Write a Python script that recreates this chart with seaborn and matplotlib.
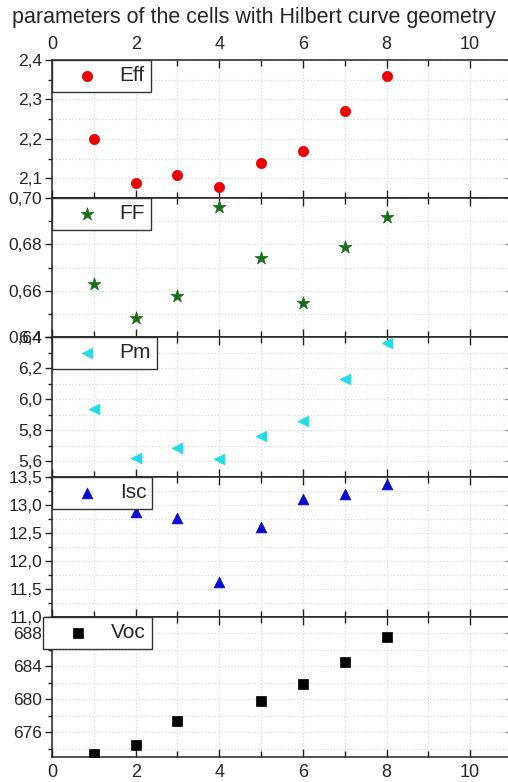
import numpy as np
import pandas as pd
import seaborn as sns
import matplotlib.pyplot as plt
from matplotlib.ticker import FixedLocator, FuncFormatter

# values
sample = [1, 2, 3, 4, 5, 6, 7, 8]
eff = [2.200, 2.088, 2.108, 2.079, 2.139, 2.169, 2.271, 2.360]
ff = [0.663, 0.648, 0.6575, 0.696, 0.674, 0.6545, 0.679, 0.692]
pm = [5.938, 5.624, 5.688, 5.613, 5.764, 5.858, 6.130, 6.360]
isc = [np.nan, 12.88, 12.76, 11.62, 12.61, 13.10, 13.20, 13.38]
voc = [673.4, 674.4, 677.4, np.nan, 679.8, 681.9, 684.5, 687.6]

df = pd.DataFrame({'n': sample, 'Eff': eff, 'FF': ff, 'Pm': pm,
                   'Isc': isc, 'Voc': voc})

sns.set_style('white')
plt.rcParams['font.family'] = ['Liberation Sans', 'DejaVu Sans']

# name, color, marker, size, ylim, major ticks, minor ticks, decimals
panels = [
    ('Eff', '#ee0000', 'o', 55, (2.05, 2.4), [2.1, 2.2, 2.3, 2.4], [2.15, 2.25, 2.35], 1),
    ('FF', '#1a6e1a', '*', 95, (0.64, 0.70), [0.64, 0.66, 0.68, 0.70], [0.65, 0.67, 0.69], 2),
    ('Pm', '#22dde8', '<', 60, (5.5, 6.4), [5.6, 5.8, 6.0, 6.2, 6.4], [5.5, 5.7, 5.9, 6.1, 6.3], 1),
    ('Isc', '#0a0ad0', '^', 60, (11.0, 13.5), [11.0, 11.5, 12.0, 12.5, 13.0, 13.5],
     [11.25, 11.75, 12.25, 12.75, 13.25], 1),
    ('Voc', '#000000', 's', 45, (673, 690), [676, 680, 684, 688], [674, 678, 682, 686, 690], 0),
]

fig = plt.figure(figsize=(5.08, 7.82), dpi=100)
W, H = 508, 782
left, width = 52 / W, 460 / W
edges = [60, 198, 337, 477, 617, 757]

for i, (name, col, mk, sz, ylim, major, minor, dec) in enumerate(panels):
    top, bot = edges[i], edges[i + 1]
    ax = fig.add_axes([left, 1 - bot / H, width, (bot - top) / H])
    ax.set_axisbelow(True)
    sns.scatterplot(data=df, x='n', y=name, ax=ax, color=col, marker=mk,
                    s=sz, edgecolor=col, linewidth=0.5, label=name, zorder=3)
    ax.set_xlim(0, 11)
    ax.set_ylim(*ylim)
    ax.set_xlabel('')
    ax.set_ylabel('')

    ax.xaxis.set_major_locator(FixedLocator([0, 2, 4, 6, 8, 10]))
    ax.xaxis.set_minor_locator(FixedLocator([1, 3, 5, 7, 9, 11]))
    ax.yaxis.set_major_locator(FixedLocator(major))
    ax.yaxis.set_minor_locator(FixedLocator(minor))
    ax.yaxis.set_major_formatter(
        FuncFormatter(lambda v, p, d=dec: f'{v:.{d}f}'.replace('.', ',')))

    ax.grid(True, which='both', color='#d8dcd8', linestyle=':', linewidth=0.9)
    for s in ax.spines.values():
        s.set_color('#222222')
        s.set_linewidth(1.1)

    ax.tick_params(axis='x', which='both', direction='in', top=True, bottom=True,
                   labeltop=(i == 0), labelbottom=(i == len(panels) - 1),
                   labelsize=13, color='#222222', pad=5)
    ax.tick_params(axis='x', which='major', length=6, width=1)
    ax.tick_params(axis='x', which='minor', length=4, width=1)
    ax.tick_params(axis='y', which='both', direction='out', left=True, right=False,
                   labelsize=12.5, color='#222222', pad=2)
    ax.tick_params(axis='y', which='major', length=5, width=1)
    ax.tick_params(axis='y', which='minor', length=3, width=1)

    sec = ax.secondary_yaxis('right')
    sec.yaxis.set_major_locator(FixedLocator(major))
    sec.yaxis.set_minor_locator(FixedLocator(minor))
    sec.tick_params(which='both', direction='in', labelright=False, color='#222222')
    sec.tick_params(which='major', length=5)
    sec.tick_params(which='minor', length=3)

    anchor_x = -0.02 if name == 'Voc' else 0
    leg = ax.legend(loc='upper left', bbox_to_anchor=(anchor_x, 1), borderaxespad=0,
                    fancybox=False, framealpha=1, edgecolor='#333333', fontsize=15,
                    handlelength=2.8, handletextpad=0.15, borderpad=0.3)
    leg.get_frame().set_linewidth(1.0)

fig.text(0.5, 1 - 17 / H, 'parameters of the cells with Hilbert curve geometry',
         ha='center', va='center', fontsize=15.5)

fig.savefig('out.png', dpi=100)
